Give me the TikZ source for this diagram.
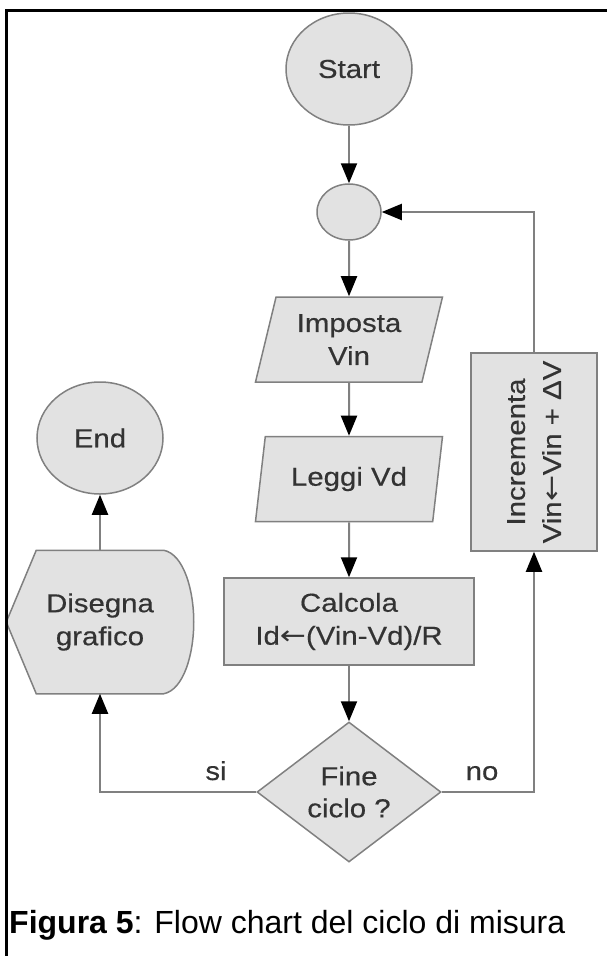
\documentclass[tikz,border=0pt]{standalone}
\usepackage{fontspec}
\setmainfont{Liberation Sans}
\newfontfamily\diagfont{Liberation Sans}[FakeStretch=1.13,FakeBold=0.4]
\newfontfamily\arrowfont{DejaVu Sans}[FakeStretch=1.2]
\newcommand{\larr}{{\arrowfont ←}}
\usetikzlibrary{shapes.geometric,arrows.meta,calc}
\pgfdeclarelayer{bg}
\pgfsetlayers{bg,main}
\definecolor{linegray}{HTML}{808080}
\definecolor{fillgray}{HTML}{E2E2E2}
\definecolor{textgray}{HTML}{333333}
\begin{document}
\begin{tikzpicture}[x=1pt,y=-1pt,
  base/.style={draw=linegray, line width=1.5pt, fill=fillgray, text=textgray,
    font=\diagfont\fontsize{26}{33}\selectfont, align=center, inner sep=0pt},
  term/.style={base, ellipse, minimum width=126pt, minimum height=112pt},
  joint/.style={base, ellipse, minimum width=64pt, minimum height=56pt},
  io/.style={base, trapezium, trapezium left angle=68, trapezium right angle=112,
    trapezium stretches body=true, minimum width=187pt, minimum height=85pt},
  proc/.style={base, rectangle},
  decision/.style={base, diamond, minimum width=184pt, minimum height=140pt},
  disp/.style={base, rectangle, draw=none, fill=none, minimum width=186pt, minimum height=142pt},
  dispshape/.style={draw=linegray, line width=1.5pt, fill=fillgray},
  flow/.style={draw=linegray, line width=2pt, -{Triangle[length=20pt,width=16pt,color=black]}},
  lbl/.style={text=textgray, font=\diagfont\fontsize{26}{33}\selectfont, anchor=base, inner sep=0pt},
  frame/.style={draw=black, line width=3pt}
]
\useasboundingbox (0,0) rectangle (607,956);
% frame
\coordinate (fbl) at (6,957);
\coordinate (ftl) at (6,10);
\coordinate (ftr) at (608,10);
\draw[frame] (fbl) -- (ftl) -- (ftr);

% nodes
\node[term] (start) at (349,69) {Start};
\node[joint] (join) at (349,212) {};
\node[io] (imp) at (349,339.5) {Imposta\\Vin};
\node[io] (leg) at (349,479) {Leggi Vd};
\node[proc, minimum width=250pt, minimum height=87pt] (calc) at (349,621.5) {Calcola\\Id\larr(Vin-Vd)/R};
\node[decision, label={[text=textgray, font=\diagfont\fontsize{26}{32}\selectfont, align=center]center:Fine\\ciclo ?}] (dec) at (349,792) {};
\node[proc, minimum width=126pt, minimum height=198pt,
  label={[text=textgray, font=\diagfont\fontsize{26}{36}\selectfont, align=center, rotate=90]center:Incrementa\\Vin\larr Vin + ΔV}] (inc) at (534,452) {};
\node[term] (endn) at (100,438) {End};
\node[disp] (dis) at (100,622) {Disegna\\grafico};
\begin{pgfonlayer}{bg}
\filldraw[dispshape] ($(dis.north west)+(30,0)$) -- ($(dis.north east)+(-30,0)$)
  .. controls ($(dis.north east)+(-10,4)$) and ($(dis.east)+(0,-32)$) .. (dis.east)
  .. controls ($(dis.east)+(0,32)$) and ($(dis.south east)+(-10,-4)$) .. ($(dis.south east)+(-30,0)$)
  -- ($(dis.south west)+(30,0)$) -- (dis.west) -- cycle;
\end{pgfonlayer}

% connectors
\draw[flow] (start.south) -- (join.north);
\draw[flow] (join.south) -- (imp.north);
\draw[flow] (imp.south) -- (leg.north);
\draw[flow] (leg.south) -- (calc.north);
\draw[flow] (calc.south) -- (dec.north);
\draw[flow] (dec.east) -| (inc.south);
\draw[flow] (inc.north) |- (join.east);
\draw[flow] (dec.west) -| (dis.south);
\draw[flow] (dis.north) -- (endn.south);

\node[lbl] (si) at (216,780) {si};
\node[lbl] (no) at (482,780) {no};

% caption
\node[anchor=base west, inner sep=0pt, font=\fontsize{32}{38}\selectfont] (cap) at (9,933)
  {\textbf{Figura 5}: Flow chart del ciclo di misura};
\end{tikzpicture}
\end{document}
